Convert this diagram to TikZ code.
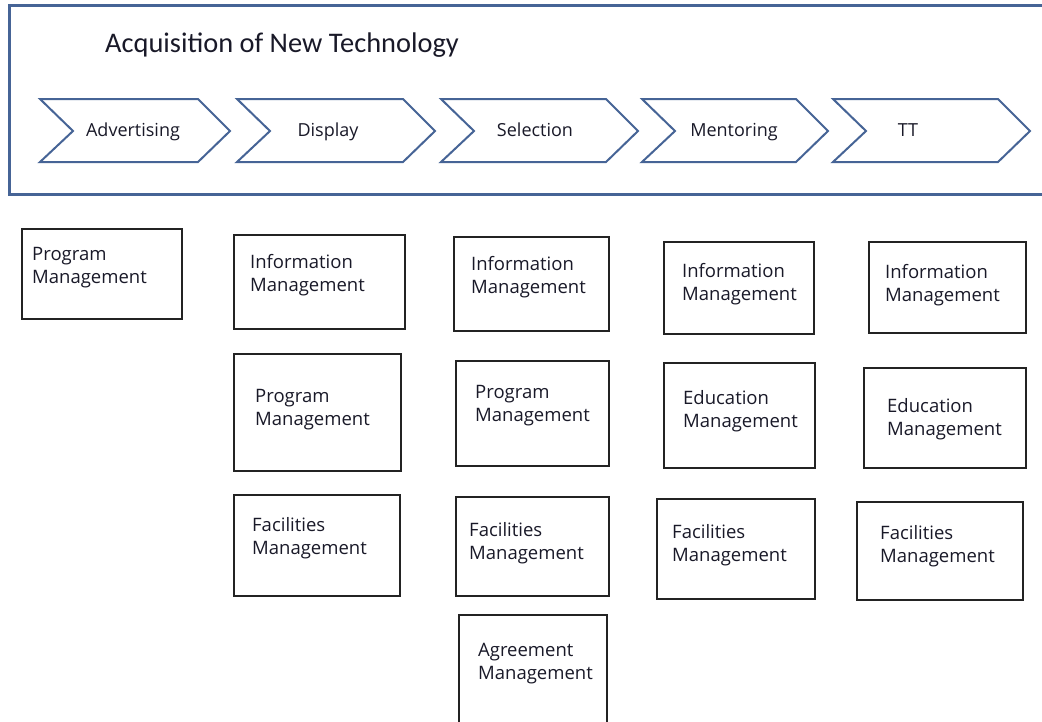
\documentclass[tikz,border=0pt]{standalone}
\usepackage{fontspec}
\setmainfont{Open Sans}
\newfontfamily\titlefont{Carlito}
\definecolor{frameblue}{RGB}{70,100,150}
\definecolor{boxline}{RGB}{35,35,35}
\definecolor{txt}{RGB}{25,25,40}
\tikzset{
  mbox/.style={draw=boxline, line width=2pt, inner sep=0pt, anchor=north west},
  mtext/.style={anchor=base west, inner sep=0pt, align=left, text=txt,
    font=\fontsize{18.5}{23.5}\selectfont},
  chevline/.style={draw=frameblue, line width=2pt, line join=miter},
  chevlabel/.style={anchor=base, inner sep=0pt, text=txt, font=\fontsize{18}{21}\selectfont},
  framebox/.style={draw=frameblue, line width=2.5pt, inner sep=0pt, anchor=north west}
}
\newcommand\mgbox[8]{%
  \node[mbox, minimum width=#4-#2, minimum height=#5-#3] (#1) at (#2,#3) {};
  \node[mtext] (#1t) at (#6,#7+23.5) {#8};}
\newcommand\chevron[3]{%
  \draw[chevline] (#1,99) -- (#2-32,99) -- (#2,131) -- (#2-32,162) -- (#1,162) -- (#1+33,131) -- cycle;}
\begin{document}
\begin{tikzpicture}[x=1pt,y=-1pt]
\useasboundingbox (0,0) rectangle (1042,721);
\clip (0,0) rectangle (1042,721);
\fill[white] (0,0) rectangle (1042,721);
% outer frame
\node[framebox, minimum width=1060, minimum height=189] (frame) at (8,4) {};
\node[anchor=base west, inner sep=0pt, text=txt, font=\titlefont\fontsize{28.4}{34}\selectfont] (title) at (105,52) {Acquisition of New Technology};
% chevrons
\chevron{40}{230}{}
\chevron{237}{435}{}
\chevron{441}{638}{}
\chevron{642}{828}{}
\chevron{833}{1030}{}
\node[chevlabel] (adv) at (133,136) {Advertising};
\node[chevlabel] (disp) at (328,136) {Display};
\node[chevlabel] (sel) at (535,136) {Selection};
\node[chevlabel] (ment) at (734,136) {Mentoring};
\node[chevlabel] (tt) at (908,136) {TT};
% column 1
\mgbox{cAprog}{21}{228}{181}{318}{32}{260}{Program\\Management}
% column 2
\mgbox{cBinfo}{233}{234}{404}{328}{250}{268}{Information\\Management}
\mgbox{cBprog}{233}{353}{400}{470}{255}{402}{Program\\Management}
\mgbox{cBfac}{233}{494}{399}{595}{252}{531}{Facilities\\Management}
% column 3
\mgbox{cCinfo}{453}{236}{608}{330}{471}{270}{Information\\Management}
\mgbox{cCprog}{455}{360}{608}{465}{475}{398}{Program\\Management}
\mgbox{cCfac}{455}{496}{608}{595}{469}{536}{Facilities\\Management}
\mgbox{cCagr}{458}{614}{606}{745}{478}{656}{Agreement\\Management}
% column 4
\mgbox{cDinfo}{663}{241}{813}{333}{682}{277}{Information\\Management}
\mgbox{cDedu}{663}{362}{814}{467}{683}{404}{Education\\Management}
\mgbox{cDfac}{656}{498}{814}{598}{672}{538}{Facilities\\Management}
% column 5
\mgbox{cEinfo}{868}{241}{1025}{332}{885}{278}{Information\\Management}
\mgbox{cEedu}{863}{367}{1025}{467}{887}{412}{Education\\Management}
\mgbox{cEfac}{856}{501}{1022}{599}{880}{539}{Facilities\\Management}
\end{tikzpicture}
\end{document}
